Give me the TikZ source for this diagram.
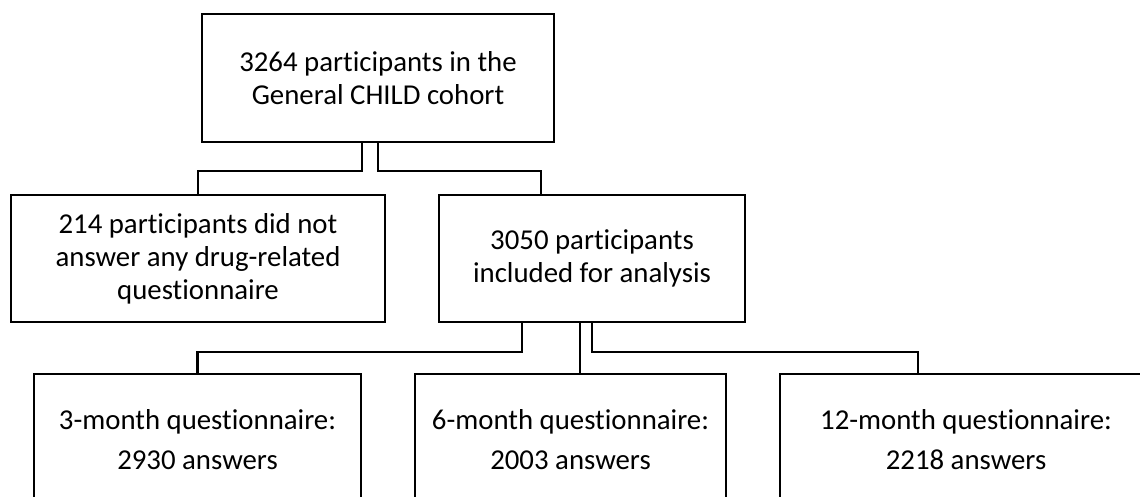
\documentclass[tikz,border=0pt]{standalone}
\usepackage{fontspec}
\setmainfont{Carlito}[Ligatures=NoCommon]

\begin{document}
\begin{tikzpicture}[x=0.5pt, y=-0.5pt, line width=1.1pt,
		box/.style={draw, align=center, inner sep=0pt, font=\fontsize{14.4}{16.5}\selectfont},
		qbox/.style={box, minimum height=66pt, font=\fontsize{14.4}{20}\selectfont}]
			\clip (0,0) rectangle (1140,497);
			\node[box, minimum width=176pt, minimum height=64pt] (cohort) at (378,78) {3264 participants in the\\General CHILD cohort};
			\node[box, minimum width=187pt, minimum height=63.5pt] (excluded) at (198,258.5) {214 participants did not\\answer any drug-related\\questionnaire};
			\node[box, minimum width=153pt, minimum height=63.5pt] (included) at (592,258.5) {3050 participants\\included for analysis};
			\node[qbox, minimum width=163.5pt] (threemonth) at (197.5,440) {3-month questionnaire:\\2930 answers};
			\node[qbox, minimum width=155.5pt] (sixmonth) at (570.5,440) {6-month questionnaire:\\2003 answers};
			\node[qbox, minimum width=186pt] (twelvemonth) at (966,440) {12-month questionnaire:\\2218 answers};
			\draw ([xshift=-8pt]cohort.south) -- ++(0,-14pt) -| (excluded.north);
			\draw (cohort.south) -- ++(0,-14pt) -| ([xshift=-25.5pt]included.north);
			\draw ([xshift=-35pt]included.south) -- ++(0,-14.5pt) -| (threemonth.north);
			\draw ([xshift=-6pt]included.south) -- ([xshift=-6pt]included.south |- sixmonth.north);
			\draw (included.south) -- ++(0,-14.5pt) -| ([xshift=-24pt]twelvemonth.north);
		\end{tikzpicture}
\end{document}
